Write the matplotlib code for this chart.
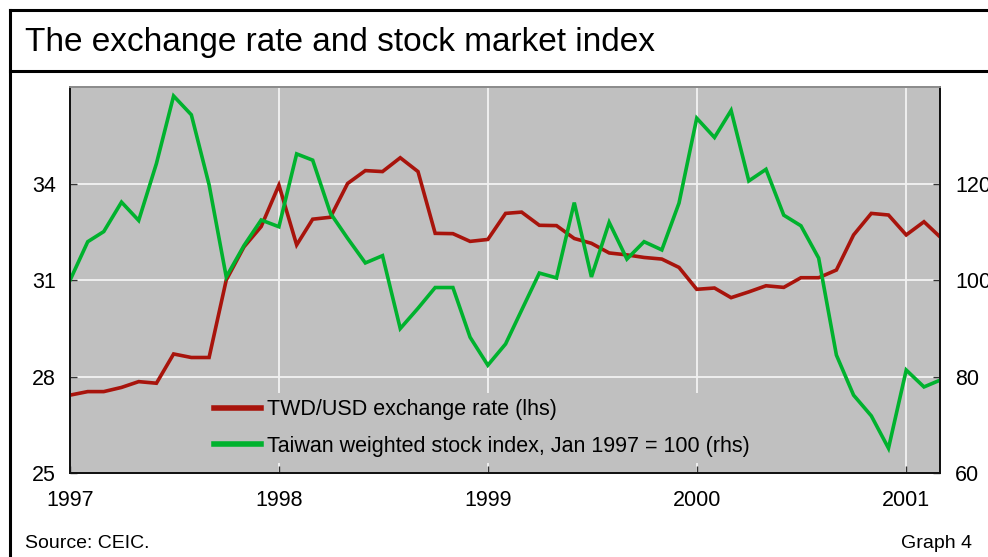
import matplotlib
matplotlib.use("Agg")
import matplotlib.pyplot as plt
from matplotlib.lines import Line2D
import pandas as pd

plt.rcParams['font.family'] = ['Liberation Sans', 'DejaVu Sans']

months = pd.date_range('1997-01-01', periods=51, freq='MS')

twd_usd = [27.43, 27.54, 27.54, 27.67, 27.85, 27.80, 28.71, 28.60, 28.60, 31.01,
           32.04, 32.67, 33.96, 32.10, 32.90, 32.96, 34.01, 34.41, 34.38, 34.81,
           34.38, 32.46, 32.45, 32.21, 32.27, 33.08, 33.12, 32.71, 32.70, 32.30,
           32.15, 31.85, 31.79, 31.71, 31.66, 31.40, 30.72, 30.76, 30.46, 30.64,
           30.83, 30.78, 31.08, 31.08, 31.32, 32.41, 33.08, 33.03, 32.41, 32.82,
           32.35]

stock_index = [100.0, 108.0, 110.1, 116.2, 112.4, 124.2, 138.2, 134.3, 119.8, 100.7,
               107.2, 112.5, 111.1, 126.2, 124.9, 113.9, 108.7, 103.6, 105.1, 90.0,
               94.2, 98.5, 98.5, 88.2, 82.4, 86.8, 93.8, 101.5, 100.5, 116.1,
               100.7, 112.0, 104.4, 108.0, 106.3, 116.0, 133.6, 129.6, 135.2, 120.6,
               123.0, 113.5, 111.3, 104.6, 84.5, 76.2, 71.9, 65.2, 81.4, 77.9,
               79.3]

left_ticks = [25, 28, 31, 34]
right_ticks = [60, 80, 100, 120]
year_ticks = pd.to_datetime(['1997-01-01', '1998-01-01', '1999-01-01', '2000-01-01', '2001-01-01'])
year_labels = ['1997', '1998', '1999', '2000', '2001']

title = 'The exchange rate and stock market index'
label_fx = 'TWD/USD exchange rate (lhs)'
label_stock = 'Taiwan weighted stock index, Jan 1997 = 100 (rhs)'

RED = '#A8140C'
GREEN = '#00B22E'
BG = '#C0C0C0'

W, H = 988, 557
fig = plt.figure(figsize=(W / 100, H / 100), dpi=100)

ax = fig.add_axes([70 / W, 1 - 473.3 / H, 870 / W, 386 / H])
ax.set_facecolor(BG)
ax.plot(months, twd_usd, color=RED, lw=2.6, solid_joinstyle='miter', zorder=3,
        label=label_fx)
ax.set_ylim(25, 37)
ax.set_yticks(left_ticks)
ax.set_xlim(months[0], months[-1])
ax.set_xticks(year_ticks)
ax.set_xticklabels(year_labels)
ax.grid(True, color='#F2F2F2', lw=1.3, zorder=1)
ax.set_axisbelow(True)

ax2 = ax.twinx()
ax2.plot(months, stock_index, color=GREEN, lw=2.6, solid_joinstyle='miter',
         label=label_stock)
ax2.set_ylim(60, 140)
ax2.set_yticks(right_ticks)

for a in (ax, ax2):
    for s in a.spines.values():
        s.set_linewidth(1.3)
        s.set_color('#111111')
    a.spines['top'].set_color('#8C8C8C')
    a.tick_params(direction='in', length=5, width=1, colors='#333333',
                  labelsize=15.5, labelcolor='black')
ax.tick_params(axis='y', pad=10)
ax2.tick_params(axis='y', pad=11)
ax.tick_params(axis='x', pad=12)

handles = [Line2D([], [], color=RED, lw=4), Line2D([], [], color=GREEN, lw=4)]
leg = ax2.legend(handles, [label_fx, label_stock], loc='upper left',
                 bbox_to_anchor=((208 - 70) / 870, (473.3 - 393) / 386),
                 frameon=True, facecolor=BG, edgecolor='none', framealpha=1,
                 fontsize=15.5, handlelength=2.15, handletextpad=0.3,
                 labelspacing=0.72, borderpad=0.3, borderaxespad=0, fancybox=False)

fig.text(25 / W, 1 - 43 / H, title, fontsize=24, va='center', ha='left')
fig.text(25 / W, 1 - 543 / H, 'Source: CEIC.', fontsize=14, va='center', ha='left')
fig.text(972 / W, 1 - 543 / H, 'Graph 4', fontsize=14, va='center', ha='right')

lw_frame = 2.2
fig.add_artist(Line2D([10 / W, 10 / W], [0, 1 - 10 / H], color='black', lw=lw_frame,
                      transform=fig.transFigure))
fig.add_artist(Line2D([10 / W, 1], [1 - 10 / H, 1 - 10 / H], color='black', lw=lw_frame,
                      transform=fig.transFigure))
fig.add_artist(Line2D([10 / W, 1], [1 - 71 / H, 1 - 71 / H], color='black', lw=lw_frame,
                      transform=fig.transFigure))

fig.savefig('out.png', dpi=100)
